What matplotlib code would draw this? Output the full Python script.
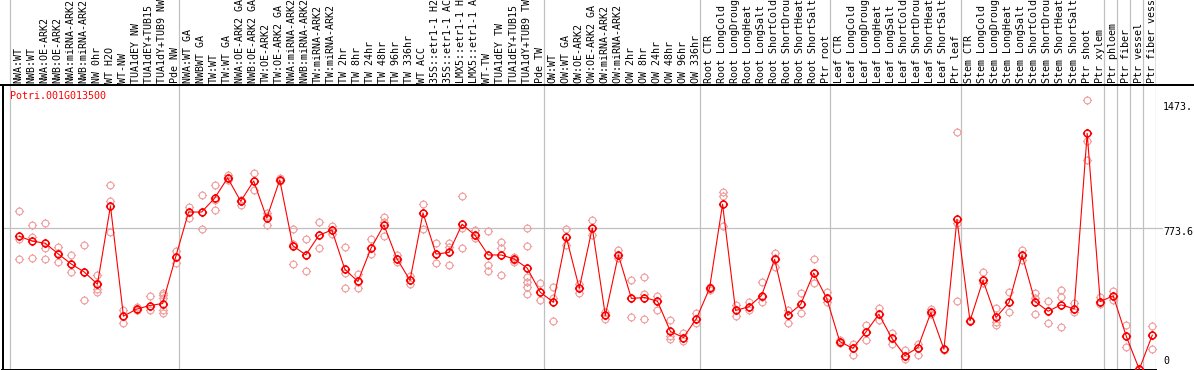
import matplotlib
matplotlib.use('Agg')
import matplotlib.pyplot as plt
from matplotlib.path import Path

# ---------------- data ----------------
title = "Potri.001G013500"

samples = [
    "NWA:WT", "NWB:WT", "NWA:OE-ARK2", "NWB:OE-ARK2", "NWA:miRNA-ARK2", "NWB:miRNA-ARK2",
    "NW 0hr", "WT H2O", "WT-NW", "TUA1dEY NW", "TUA1dEY+TUB15 NW", "TUA1dY+TUB9 NW", "Pde NW",
    "NWA:WT GA", "NWBWT GA", "TW:WT", "TW:WT GA", "NWA:OE-ARK2 GA", "NWB:OE-ARK2 GA",
    "TW:OE-ARK2", "TW:OE-ARK2 GA", "NWA:miRNA-ARK2 GA", "NWB:miRNA-ARK2 GA", "TW:miRNA-ARK2",
    "TW:miRNA-ARK2 GA", "TW 2hr", "TW 8hr", "TW 24hr", "TW 48hr", "TW 96hr", "TW 336hr",
    "WT ACC", "35S::etr1-1 H2O", "35S::etr1-1 ACC", "LMX5::etr1-1 H2O", "LMX5::etr1-1 ACC",
    "WT-TW", "TUA1dEY TW", "TUA1dEY+TUB15 TW", "TUA1dY+TUB9 TW", "Pde TW",
    "OW:WT", "OW:WT GA", "OW:OE-ARK2", "OW:OE-ARK2 GA", "OW:miRNA-ARK2", "OW:miRNA-ARK2 GA",
    "OW 2hr", "OW 8hr", "OW 24hr", "OW 48hr", "OW 96hr", "OW 336hr",
    "Root CTR", "Root LongCold", "Root LongDrought", "Root LongHeat", "Root LongSalt",
    "Root ShortCold", "Root ShortDrought", "Root ShortHeat", "Root ShortSalt", "Ptr root",
    "Leaf CTR", "Leaf LongCold", "Leaf LongDrought", "Leaf LongHeat", "Leaf LongSalt",
    "Leaf ShortCold", "Leaf ShortDrought", "Leaf ShortHeat", "Leaf ShortSalt", "Ptr leaf",
    "Stem CTR", "Stem LongCold", "Stem LongDrought", "Stem LongHeat", "Stem LongSalt",
    "Stem ShortCold", "Stem ShortDrought", "Stem ShortHeat", "Stem ShortSalt", "Ptr shoot",
    "Ptr xylem", "Ptr phloem", "Ptr fiber", "Ptr vessel", "Ptr fiber vessel",
]

# sample-group boundaries (index of first sample in each group, plus total)
group_bounds = [0, 13, 41, 53, 63, 73, 84, 85, 86, 87, 88]

means = [
    728, 702, 690, 631, 576, 532, 466, 894, 291, 329, 349, 360, 613,
    861, 861, 937, 1048, 920, 1031, 828, 1037, 677, 626, 733, 763, 547, 481, 662,
    790, 605, 487, 856, 631, 640, 794, 733, 626, 626, 604, 554, 422,
    368, 724, 444, 774, 295, 626, 388, 393, 373, 207, 174, 278,
    443, 904, 322, 342, 404, 602, 295, 355, 527, 388,
    152, 115, 203, 302, 170, 75, 119, 311, 110, 821,
    265, 487, 284, 366, 626, 371, 318, 353, 331, 1292, 371,
    402, 181, 0, 187,
]

rep1 = [
    867, 790, 799, 668, 626, 680, 516, 1008, 324, 340, 400, 419, 649,
    891, 953, 1008, 1064, 927, 1074, 854, 1045, 767, 713, 805, 786, 668, 521, 713,
    836, 626, 510, 904, 690, 693, 947, 763, 756, 699, 616, 772, 470,
    448, 767, 465, 818, 311, 653, 487, 505, 400, 269, 199, 306,
    450, 973, 351, 368, 476, 635, 324, 415, 602, 424,
    159, 141, 241, 338, 199, 104, 141, 328, 112, 1299,
    268, 530, 338, 421, 653, 415, 373, 433, 364, 1473, 397,
    428, 241, 0, 236,
]
rep2 = [
    713, 726, 662, 635, 576, 534, 470, 922, 291, 324, 349, 406, 613,
    861, 861, 927, 1048, 920, 1031, 840, 1037, 688, 626, 733, 763, 528, 479, 662,
    808, 605, 487, 856, 631, 671, 772, 733, 571, 662, 598, 677, 422,
    388, 724, 444, 774, 295, 626, 388, 412, 373, 183, 174, 278,
    443, 949, 322, 342, 395, 612, 295, 355, 527, 388,
    152, 115, 203, 302, 170, 75, 119, 311, 110, 799,
    265, 487, 260, 366, 626, 388, 318, 397, 331, 1250, 371,
    402, 181, 0, 187,
]
rep3 = [
    602, 607, 602, 589, 530, 382, 437, 750, 254, 324, 324, 393, 580,
    830, 767, 872, 1037, 900, 982, 790, 1030, 576, 538, 662, 741, 443, 443, 629,
    730, 589, 465, 767, 580, 571, 662, 717, 538, 516, 589, 507, 379,
    263, 680, 419, 733, 274, 607, 287, 278, 324, 166, 155, 256,
    436, 785, 292, 324, 368, 561, 251, 306, 474, 366,
    146, 77, 159, 269, 141, 59, 77, 302, 108, 373,
    262, 470, 241, 311, 598, 302, 256, 232, 314, 1147, 360,
    379, 122, 0, 113,
]
# additional replicates: (sample index, value)
extra_reps = [(6, 421), (11, 324), (11, 309), (39, 479), (39, 452), (39, 410)]

ytick_labels = ["1473.", "773.6", "0"]
ytick_values = [1473, 773.6, 0]

# ---------------- layout ----------------
W, H = 1194, 370
fig = plt.figure(figsize=(W / 100, H / 100), dpi=100)
FONT = dict(family="DejaVu Sans Mono", size=7.2)

COL = 13.023          # px per sample column
X0 = 10.0             # px of first boundary
PT_OFF = 0.714        # point offset inside a column
AX_L, AX_R = 2.5, 1156
HEAD = 85.0           # header bottom (image px from top)
BOT = 369.5           # plot bottom (image px from top)

def rect(x0, ytop, x1, ybot):
    return [x0 / W, (H - ybot) / H, (x1 - x0) / W, (ybot - ytop) / H]

xlim = ((AX_L - X0) / COL, (AX_R - X0) / COL)
scale = 773.6 / (369.3 - 228.0)        # value per px
ylim = (-(BOT - 369.3) * scale, (369.3 - HEAD) * scale)

GRID = "#c0c0c0"
PINK = "#f09c9c"

# circle marker with four small ticks outside (bitmap-circle look)
_circ = Path.unit_circle()
_t0, _t1 = 1.0, 1.35
_verts = list(_circ.vertices)
_codes = list(_circ.codes)
for dx, dy in ((1, 0), (-1, 0), (0, 1), (0, -1)):
    _verts += [(dx * _t0, dy * _t0), (dx * _t1, dy * _t1)]
    _codes += [Path.MOVETO, Path.LINETO]
tick_circle = Path(_verts, _codes)

# main axes
ax = fig.add_axes(rect(AX_L, HEAD, AX_R, BOT))
ax.set_xlim(*xlim)
ax.set_ylim(*ylim)
for s in ("top", "right"):
    ax.spines[s].set_visible(False)
for s in ("left", "bottom"):
    ax.spines[s].set_linewidth(1.44)
    ax.spines[s].set_color("black")
ax.set_xticks([])
ax.set_yticks([])
ax.patch.set_alpha(0)

for k in group_bounds:
    ax.axvline(k, color=GRID, lw=0.9, zorder=0)
# midline grid, extending up to the right-hand labels
ax.plot([xlim[0], (1162 - X0) / COL], [773.6, 773.6], color=GRID, lw=0.9,
        clip_on=False, zorder=0)

xs = [i + PT_OFF for i in range(len(samples))]
mk = dict(marker=tick_circle, ms=6.6, mfc="none", ls="none", clip_on=False)
for reps in (rep1, rep2, rep3):
    ax.plot(xs, reps, mec=PINK, mew=0.8, zorder=2, **mk)
ax.plot([xs[i] for i, _ in extra_reps], [v for _, v in extra_reps],
        mec=PINK, mew=0.8, zorder=2, **mk)
ax.plot(xs, means, color="red", lw=0.8, zorder=3, clip_on=False)
ax.plot(xs, means, mec="red", mew=1.1, zorder=4, **mk)

ax.annotate(title, xy=(10, H - 91), xycoords="figure pixels", color="red",
            ha="left", va="top", **FONT)

for lab, v in zip(ytick_labels, ytick_values):
    va = "bottom" if v == 0 else "top"
    yy = v if v != 0 else ylim[0]
    off = 4 if v == 0 else (-2 if v > 1000 else 1)
    ax.annotate(lab, xy=(1163, yy), xycoords=("figure pixels", "data"),
                xytext=(0, off), textcoords="offset pixels",
                ha="left", va=va, color="black", annotation_clip=False, **FONT)

# header axes with rotated labels (long labels run off the top, as in the original)
hax = fig.add_axes(rect(AX_L, -2, AX_R, HEAD))
hax.set_xlim(*xlim)
hax.set_ylim(0, 1)
hax.axis("off")
for k in group_bounds[:-1]:
    hax.axvline(k, color=GRID, lw=0.9, zorder=0)
hax.axvline(group_bounds[-1], color="black", lw=0.9)
hax.axvline(xlim[0], color="black", lw=1.44)

for x, lab in zip(xs, samples):
    hax.annotate(lab, xy=(x - 0.05, H - 83), xycoords=("data", "figure pixels"),
                 rotation=90, ha="center", va="bottom", color="black",
                 annotation_clip=False, **FONT)

# top separator line across the full width
fig.add_artist(plt.Line2D([0, 1], [(H - HEAD) / H] * 2, color="black", lw=1.44))

fig.savefig("out.png", dpi=100)
